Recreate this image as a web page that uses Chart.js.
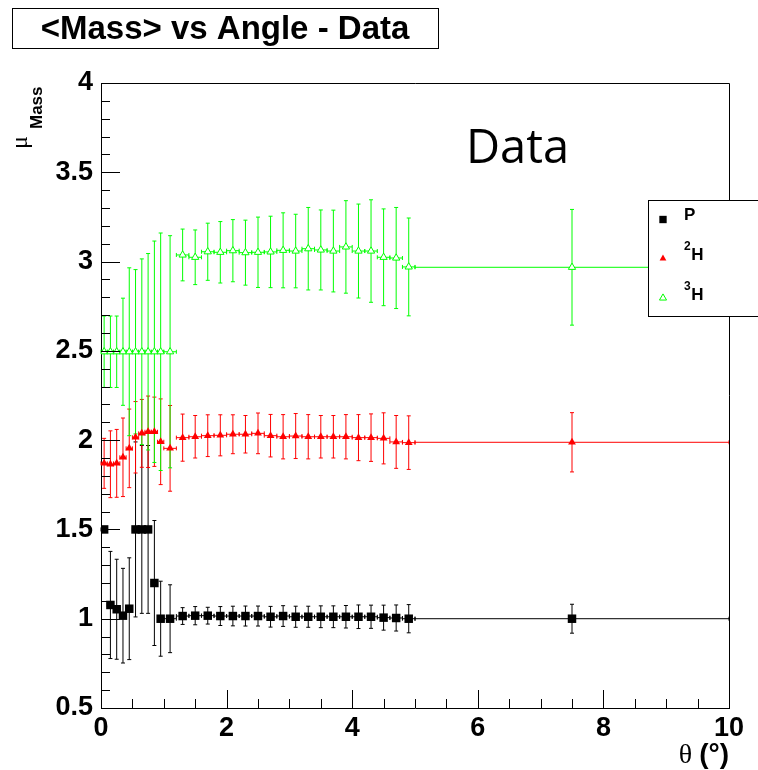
<!DOCTYPE html>
<html>
<head>
<meta charset="utf-8">
<title>&lt;Mass&gt; vs Angle - Data</title>
<script src="https://cdn.jsdelivr.net/npm/chart.js@4.4.1/dist/chart.umd.min.js"></script>
<style>
  html, body { margin: 0; padding: 0; background: #fff; }
  canvas { display: block; }
</style>
</head>
<body>
<canvas id="chart" width="758" height="770"></canvas>
<script>
// Bin centres (degrees) and half widths
const theta    = [0.05, 0.15, 0.25, 0.35, 0.45, 0.55, 0.65, 0.75, 0.85, 0.95, 1.1,
                  1.3, 1.5, 1.7, 1.9, 2.1, 2.3, 2.5, 2.7, 2.9, 3.1, 3.3, 3.5, 3.7, 3.9, 4.1, 4.3, 4.5, 4.7, 4.9,
                  7.5];
const thetaErr = [0.05, 0.05, 0.05, 0.05, 0.05, 0.05, 0.05, 0.05, 0.05, 0.05, 0.1,
                  0.1, 0.1, 0.1, 0.1, 0.1, 0.1, 0.1, 0.1, 0.1, 0.1, 0.1, 0.1, 0.1, 0.1, 0.1, 0.1, 0.1, 0.1, 0.1,
                  2.5];

// Mean reconstructed mass per angular bin
const massP  = [1.50, 1.077, 1.053, 1.017, 1.056, 1.50, 1.50, 1.50, 1.20, 1.00, 1.00,
                1.015, 1.017, 1.017, 1.015, 1.015, 1.015, 1.015, 1.011, 1.015, 1.011, 1.011, 1.011, 1.011, 1.011, 1.011, 1.011, 1.006, 1.004, 1.00,
                1.00];
const errP   = [0, 0.30, 0.28, 0.265, 0.285, 0.49, 0.47, 0.47, 0.35, 0.21, 0.19,
                0.047, 0.051, 0.047, 0.053, 0.055, 0.056, 0.056, 0.058, 0.058, 0.059, 0.059, 0.061, 0.061, 0.063, 0.066, 0.065, 0.07, 0.073, 0.079,
                0.081];

const massH2 = [1.87, 1.865, 1.87, 1.904, 1.954, 2.016, 2.038, 2.047, 2.047, 1.991, 1.954,
                2.014, 2.019, 2.025, 2.027, 2.033, 2.033, 2.038, 2.025, 2.019, 2.023, 2.019, 2.019, 2.019, 2.019, 2.014, 2.014, 2.010, 1.990, 1.986,
                1.988];
const errH2  = [0.14, 0.187, 0.19, 0.22, 0.22, 0.20, 0.19, 0.20, 0.194, 0.24, 0.24,
                0.132, 0.119, 0.117, 0.115, 0.109, 0.105, 0.114, 0.119, 0.124, 0.126, 0.124, 0.119, 0.119, 0.124, 0.129, 0.133, 0.143, 0.148, 0.15,
                0.166];

const massH3 = [2.495, 2.495, 2.495, 2.495, 2.495, 2.495, 2.495, 2.495, 2.495, 2.495, 2.495,
                3.037, 3.024, 3.055, 3.052, 3.061, 3.050, 3.052, 3.054, 3.063, 3.059, 3.072, 3.065, 3.059, 3.082, 3.059, 3.059, 3.024, 3.020, 2.970,
                2.968];
const errH3  = [0.2, 0.2, 0.2, 0.3, 0.47, 0.46, 0.52, 0.55, 0.62, 0.665, 0.65,
                0.145, 0.153, 0.16, 0.172, 0.174, 0.182, 0.197, 0.2, 0.21, 0.206, 0.231, 0.224, 0.229, 0.259, 0.263, 0.287, 0.271, 0.283, 0.274,
                0.324];

const seriesNames = ['P', '2H', '3H'];
const legendSup   = ['', '2', '3'];
const legendBase  = ['P', 'H', 'H'];

const xTicks = [0, 2, 4, 6, 8, 10];
const xTickLabels = ['0', '2', '4', '6', '8', '10'];
const yTicks = [0.5, 1, 1.5, 2, 2.5, 3, 3.5, 4];
const yTickLabels = ['0.5', '1', '1.5', '2', '2.5', '3', '3.5', '4'];

const SANS  = '"Liberation Sans", Arial, Helvetica, sans-serif';
const SERIF = '"Liberation Serif", "Times New Roman", serif';

function points(mean, err) {
  return theta.map((t, i) => ({ x: t, y: mean[i], ex: thetaErr[i], ey: err[i] }));
}

// Error bars with small end ticks, drawn under the markers
const errorBars = {
  id: 'errorBars',
  beforeDatasetsDraw(chart) {
    const { ctx, scales: { x, y } } = chart;
    ctx.save();
    ctx.lineWidth = 1;
    chart.data.datasets.forEach(ds => {
      ctx.strokeStyle = ds.borderColor;
      ds.data.forEach(p => {
        const px = x.getPixelForValue(p.x);
        const py = y.getPixelForValue(p.y);
        const xl = x.getPixelForValue(p.x - p.ex);
        const xr = x.getPixelForValue(p.x + p.ex);
        ctx.beginPath();
        ctx.moveTo(xl, py); ctx.lineTo(xr, py);
        ctx.moveTo(xl, py - 2); ctx.lineTo(xl, py + 2);
        ctx.moveTo(xr, py - 2); ctx.lineTo(xr, py + 2);
        if (p.ey > 0) {
          const yt = y.getPixelForValue(p.y + p.ey);
          const yb = y.getPixelForValue(p.y - p.ey);
          ctx.moveTo(px, yt); ctx.lineTo(px, yb);
          ctx.moveTo(px - 2, yt); ctx.lineTo(px + 2, yt);
          ctx.moveTo(px - 2, yb); ctx.lineTo(px + 2, yb);
        }
        ctx.stroke();
      });
    });
    ctx.restore();
  }
};

// Inward tick marks and the top/right frame
const frameTicks = {
  id: 'frameTicks',
  afterDatasetsDraw(chart) {
    const { ctx, chartArea: a, scales: { x, y } } = chart;
    ctx.save();
    ctx.strokeStyle = '#000';
    ctx.lineWidth = 1;
    ctx.beginPath();
    for (let k = 0; k <= 20; k++) {
      const v = k * 0.5;
      const px = Math.round(x.getPixelForValue(v)) + 0.5;
      const len = (k % 4 === 0) ? 18 : 9;
      ctx.moveTo(px, a.bottom); ctx.lineTo(px, a.bottom - len);
    }
    for (let k = 5; k <= 40; k++) {
      const v = k * 0.1;
      const py = Math.round(y.getPixelForValue(v)) + 0.5;
      const len = (k % 5 === 0) ? 19 : 9;
      ctx.moveTo(a.left, py); ctx.lineTo(a.left + len, py);
    }
    ctx.moveTo(a.left, a.top + 0.5); ctx.lineTo(a.right + 0.5, a.top + 0.5);
    ctx.lineTo(a.right + 0.5, a.bottom);
    ctx.stroke();
    ctx.restore();
  }
};

function marker(ctx, ds, r, px, py) {
  ctx.save();
  ctx.fillStyle = ds.pointBackgroundColor;
  ctx.strokeStyle = ds.pointBorderColor;
  ctx.lineWidth = ds.pointBorderWidth;
  ctx.beginPath();
  if (ds.pointStyle === 'rect') {
    const s = r * Math.SQRT1_2;
    ctx.rect(px - s, py - s, 2 * s, 2 * s);
  } else {
    const w = r * Math.sqrt(3) / 2;
    ctx.moveTo(px, py - r);
    ctx.lineTo(px + w, py + r / 2);
    ctx.lineTo(px - w, py + r / 2);
    ctx.closePath();
  }
  ctx.fill();
  if (ds.pointBorderWidth > 0) ctx.stroke();
  ctx.restore();
}

// Title box, axis titles, "Data" label and the legend
const annotations = {
  id: 'annotations',
  afterDraw(chart) {
    const { ctx } = chart;
    ctx.save();

    // title
    ctx.fillStyle = '#fff';
    ctx.fillRect(12, 8, 427, 40);
    ctx.strokeStyle = '#000';
    ctx.lineWidth = 1;
    ctx.strokeRect(12.5, 8.5, 426, 40);
    ctx.fillStyle = '#000';
    ctx.font = 'bold 33px ' + SANS;
    ctx.textAlign = 'center';
    ctx.textBaseline = 'alphabetic';
    ctx.fillText('<Mass> vs Angle - Data', 225, 39);

    // y-axis title: mu with subscript "Mass"
    ctx.save();
    ctx.translate(27, 149);
    ctx.rotate(-Math.PI / 2);
    ctx.textAlign = 'left';
    ctx.font = '24px ' + SERIF;
    ctx.fillText('\u03BC', 0, 0);
    ctx.restore();
    ctx.save();
    ctx.translate(42, 129);
    ctx.rotate(-Math.PI / 2);
    ctx.textAlign = 'left';
    ctx.font = 'bold 17px ' + SANS;
    ctx.fillText('Mass', 0, 0);
    ctx.restore();

    // x-axis title
    ctx.textAlign = 'right';
    ctx.font = 'bold 28px ' + SANS;
    ctx.fillText('(\u00B0)', 729, 763);
    const w = ctx.measureText('(\u00B0)').width;
    ctx.font = '28px ' + SERIF;
    ctx.fillText('\u03B8', 729 - w - 7, 763);

    // in-plot label
    ctx.textAlign = 'left';
    ctx.font = '47px "Open Sans", "DejaVu Sans", sans-serif';
    ctx.fillText('Data', 466, 163);

    // legend
    ctx.fillStyle = '#fff';
    ctx.fillRect(648, 200, 110, 117);
    ctx.strokeStyle = '#000';
    ctx.strokeRect(648.5, 200.5, 120, 116);
    const markerY = [219.5, 258.5, 298];
    const textY = [219.5, 260, 300];
    const sizes = [5.2, 3.9, 4.1];
    chart.data.datasets.forEach((ds, i) => {
      marker(ctx, ds, sizes[i], 663, markerY[i]);
      ctx.fillStyle = '#000';
      ctx.textAlign = 'left';
      let tx = 684;
      if (legendSup[i]) {
        ctx.font = 'bold 12px ' + SANS;
        ctx.fillText(legendSup[i], tx, textY[i] - 10);
        tx += ctx.measureText(legendSup[i]).width + 0.5;
      }
      ctx.font = 'bold 17px ' + SANS;
      ctx.fillText(legendBase[i], tx, textY[i]);
    });

    ctx.restore();
  }
};

new Chart(document.getElementById('chart'), {
  type: 'scatter',
  data: {
    datasets: [
      {
        label: seriesNames[0], data: points(massP, errP),
        borderColor: '#000000', backgroundColor: '#000000',
        pointStyle: 'rect', pointRadius: 6, pointBackgroundColor: '#000000',
        pointBorderColor: '#000000', pointBorderWidth: 0
      },
      {
        label: seriesNames[1], data: points(massH2, errH2),
        borderColor: '#ff0000', backgroundColor: '#ff0000',
        pointStyle: 'triangle', pointRadius: 4.5, pointBackgroundColor: '#ff0000',
        pointBorderColor: '#ff0000', pointBorderWidth: 0
      },
      {
        label: seriesNames[2], data: points(massH3, errH3),
        borderColor: '#00ff00', backgroundColor: '#ffffff',
        pointStyle: 'triangle', pointRadius: 4.2, pointBackgroundColor: '#ffffff',
        pointBorderColor: '#00ff00', pointBorderWidth: 1
      }
    ]
  },
  options: {
    responsive: false,
    animation: false,
    devicePixelRatio: 1,
    events: [],
    layout: { padding: { top: 83, right: 29, left: 0, bottom: 0 } },
    plugins: { legend: { display: false }, tooltip: { enabled: false }, title: { display: false } },
    scales: {
      x: {
        type: 'linear', min: 0, max: 10,
        afterBuildTicks: s => { s.ticks = xTicks.map(v => ({ value: v })); },
        afterFit: s => { s.height = 62; },
        grid: { display: false, drawTicks: false },
        border: { display: true, color: '#000', width: 1 },
        ticks: {
          autoSkip: false, maxRotation: 0, padding: 4, color: '#000',
          font: { family: SANS, size: 27, weight: 'bold' },
          callback: (v, i) => xTickLabels[i]
        }
      },
      y: {
        type: 'linear', min: 0.5, max: 4,
        afterBuildTicks: s => { s.ticks = yTicks.map(v => ({ value: v })); },
        afterFit: s => { s.width = 101; },
        grid: { display: false, drawTicks: false },
        border: { display: true, color: '#000', width: 1 },
        ticks: {
          autoSkip: false, padding: 8, color: '#000',
          font: { family: SANS, size: 27, weight: 'bold' },
          callback: (v, i) => yTickLabels[i]
        }
      }
    }
  },
  plugins: [errorBars, frameTicks, annotations]
});
</script>
</body>
</html>
